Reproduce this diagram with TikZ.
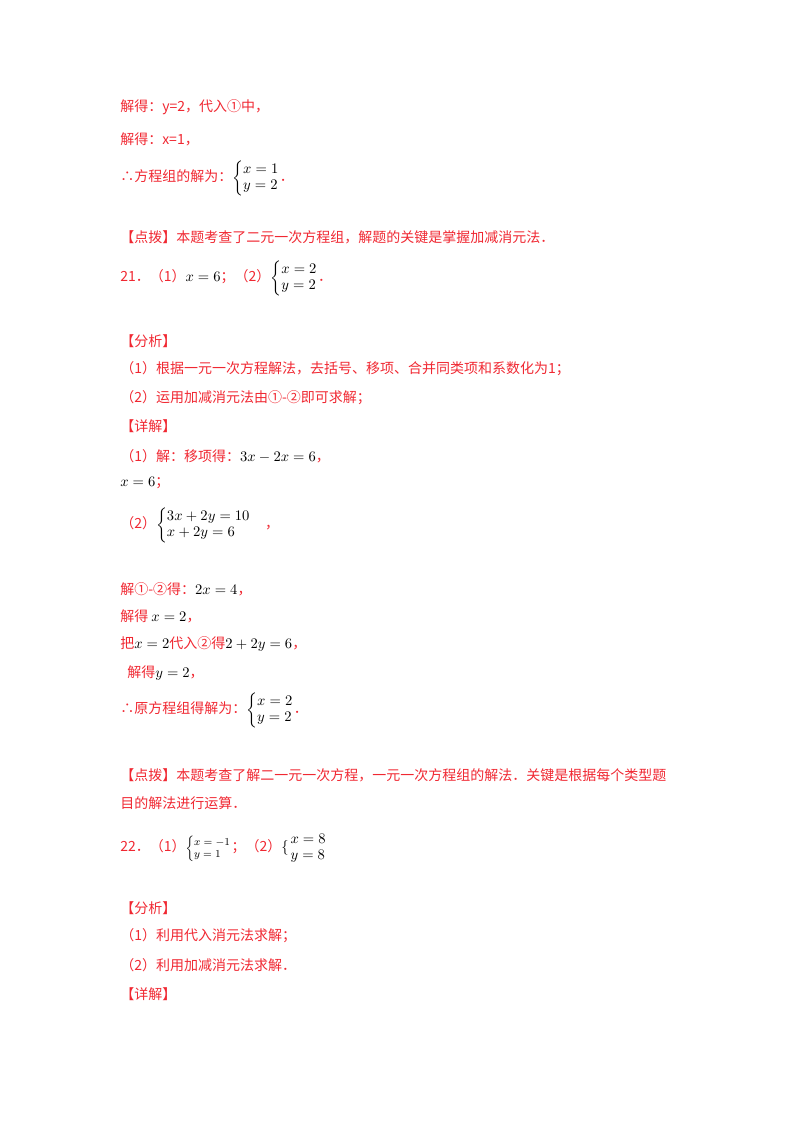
\documentclass[tikz,border=0pt]{standalone}
\usepackage{amsmath}
\usepackage{fontspec}
\setmainfont{Liberation Serif}
\newfontfamily\cjk{Noto Sans CJK SC}
\definecolor{rd}{RGB}{240,40,50}
\newcommand{\sys}[2]{\ensuremath{\left\{\begin{array}{@{}l@{}}#1\\#2\end{array}\right.}}
\begin{document}
\begin{tikzpicture}[x=0.75pt,y=-0.75pt,
  ln/.style={anchor=west,inner sep=0pt,text=rd,font=\cjk\fontsize{10.5}{12}\selectfont}]
\useasboundingbox (0,0) rectangle (800,1132);
\node[ln] (l1) at (120,107) {解得：y=2，代入①中，};
\node[ln] (l2) at (120,139) {解得：x=1，};
\node[ln] (l3) at (120,178) {∴方程组的解为：\color{black}\sys{x=1}{y=2}\color{rd}．};
\node[ln] (l4) at (120,237) {【点拨】本题考查了二元一次方程组，解题的关键是掌握加减消元法．};
\node[ln] (l5) at (120,278) {21．（1）\color{black}$x=6$\color{rd}；（2）\color{black}\sys{x=2}{y=2}\color{rd}．};
\node[ln] (l6) at (120,341) {【分析】};
\node[ln] (l7) at (120,369) {（1）根据一元一次方程解法，去括号、移项、合并同类项和系数化为1；};
\node[ln] (l8) at (120,398) {（2）运用加减消元法由①-②即可求解；};
\node[ln] (l9) at (120,426) {【详解】};
\node[ln] (l10) at (120,456) {（1）解：移项得：\color{black}$3x-2x=6$\color{rd}，};
\node[ln] (l11) at (120,483) {\color{black}$x=6$\color{rd}；};
\node[ln] (l12) at (120,525) {（2）\color{black}\sys{3x+2y=10}{x+2y=6}\color{rd}\quad ，};
\node[ln] (l13) at (120,589) {解①-②得：\color{black}$2x=4$\color{rd}，};
\node[ln] (l14) at (120,616) {解得 \color{black}$x=2$\color{rd}，};
\node[ln] (l15) at (120,644) {把\color{black}$x=2$\color{rd}代入②得\color{black}$2+2y=6$\color{rd}，};
\node[ln] (l16) at (127,673) {解得\color{black}$y=2$\color{rd}，};
\node[ln] (l17) at (120,710) {∴原方程组得解为：\color{black}\sys{x=2}{y=2}\color{rd}．};
\node[ln] (l18) at (120,775) {【点拨】本题考查了解二一元一次方程，一元一次方程组的解法．关键是根据每个类型题};
\node[ln] (l19) at (120,803) {目的解法进行运算．};
\node[ln] (l20) at (120,848) {22．（1）\color{black}{\footnotesize\sys{x=-1}{y=1}}\color{rd}；（2）\color{black}$\{\!\!\begin{array}{l}x=8\\y=8\end{array}$};
\node[ln] (l21) at (120,908) {【分析】};
\node[ln] (l22) at (120,936) {（1）利用代入消元法求解；};
\node[ln] (l23) at (120,965) {（2）利用加减消元法求解．};
\node[ln] (l24) at (120,994) {【详解】};
\end{tikzpicture}
\end{document}
